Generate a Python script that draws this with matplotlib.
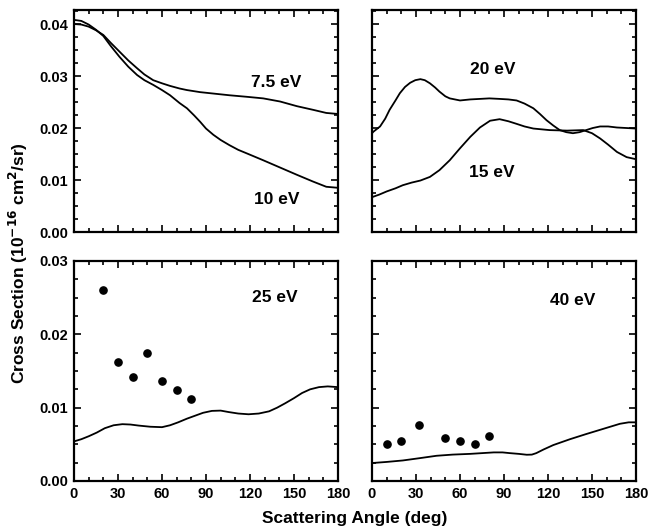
import matplotlib
matplotlib.use("Agg")
import matplotlib.pyplot as plt
from matplotlib.ticker import MultipleLocator, FormatStrFormatter

plt.rcParams['font.family'] = ['Liberation Sans', 'DejaVu Sans']
plt.rcParams['font.weight'] = 'bold'

# ---- data ----
ang_75 = [0, 5, 10, 15, 20, 25, 31, 37, 43, 48, 54, 60, 65.5, 72, 77, 86, 96, 106, 118,
          129, 140.5, 152, 163, 172, 180]
cs_75 = [0.0400, 0.0399, 0.0395, 0.0388, 0.0379, 0.0364, 0.0347, 0.0330, 0.0315, 0.0303,
         0.0292, 0.0286, 0.0281, 0.0276, 0.0273, 0.0269, 0.0266, 0.0263, 0.0260, 0.0257,
         0.0251, 0.0242, 0.0235, 0.0229, 0.0227]
ang_10 = [0, 5, 10, 15, 20, 25, 31, 37, 43, 48, 54, 60, 65.5, 72, 77, 82, 86, 90, 95, 100,
          106, 112, 118, 129, 140.5, 152, 163, 172, 180]
cs_10 = [0.0408, 0.0406, 0.0399, 0.0389, 0.0377, 0.0358, 0.0337, 0.0318, 0.0302, 0.0292,
         0.0283, 0.0273, 0.0263, 0.0248, 0.0238, 0.0224, 0.0212, 0.0199, 0.0187, 0.0177,
         0.0167, 0.0158, 0.0151, 0.0138, 0.0124, 0.0110, 0.0097, 0.0087, 0.0085]

ang_15 = [0, 5, 10, 16, 21, 27, 33, 39.5, 46, 53, 60, 67, 73.6, 80.5, 87, 93, 98.6, 104,
          110, 121, 133, 144, 150, 155.5, 161, 167, 173.6, 180]
cs_15 = [0.0067, 0.0072, 0.0078, 0.0084, 0.0090, 0.0095, 0.0099, 0.0106, 0.0119, 0.0138,
         0.0161, 0.0183, 0.0201, 0.0214, 0.0217, 0.0213, 0.0208, 0.0203, 0.0199, 0.0196,
         0.0195, 0.0196, 0.0190, 0.0180, 0.0168, 0.0154, 0.0144, 0.0140]
ang_20 = [0, 1, 5.5, 9, 12, 16, 19, 22.5, 26, 29.5, 33, 36, 39.5, 43, 46, 50, 53, 60, 67,
          73.6, 80, 87, 93, 98.6, 104, 110, 114.5, 119, 123.5, 128, 132.5, 137, 141.5, 146,
          150.5, 155.5, 161, 167, 180]
cs_20 = [0.0190, 0.0193, 0.0203, 0.0218, 0.0235, 0.0253, 0.0267, 0.0279, 0.0287, 0.0292,
         0.0294, 0.0292, 0.0286, 0.0278, 0.0270, 0.0261, 0.0257, 0.0253, 0.0255, 0.0256,
         0.0257, 0.0256, 0.0255, 0.0253, 0.0247, 0.0238, 0.0227, 0.0215, 0.0205, 0.0196,
         0.0192, 0.0190, 0.0192, 0.0196, 0.0200, 0.0203, 0.0203, 0.0201, 0.0199]

ang_25 = [0, 5, 10, 15.5, 21, 27, 33, 38.5, 44, 52, 60, 65.5, 71, 77, 82.5, 88, 94, 100,
          105.5, 112, 119, 126, 133, 138.5, 144, 150, 155.5, 161, 167, 173, 180]
cs_25 = [0.0054, 0.0057, 0.0061, 0.0066, 0.0072, 0.0076, 0.00775, 0.0077, 0.00756, 0.0074,
         0.00734, 0.0076, 0.0080, 0.0085, 0.0089, 0.0093, 0.00956, 0.0096, 0.0094, 0.0092,
         0.0091, 0.0092, 0.0095, 0.0100, 0.0106, 0.0113, 0.0120, 0.0125, 0.0128, 0.0129,
         0.0128]
exp_ang_25 = [20, 30, 40, 50, 60, 70, 80]
exp_cs_25 = [0.0261, 0.0162, 0.0142, 0.0174, 0.0136, 0.0124, 0.0112]

ang_40 = [0, 10, 21, 32, 44, 55, 67, 75, 83, 89, 94, 100, 105.5, 109, 112, 117, 123.6, 135,
          146, 157.5, 169, 175, 180]
cs_40 = [0.00245, 0.0026, 0.0028, 0.0031, 0.00344, 0.0036, 0.0037, 0.0038, 0.0039, 0.0039,
         0.0038, 0.0037, 0.00358, 0.0036, 0.0038, 0.0043, 0.0049, 0.0057, 0.0064, 0.0071,
         0.0078, 0.0080, 0.0080]
exp_ang_40 = [10, 20, 32, 50, 60, 70, 80]
exp_cs_40 = [0.0050, 0.0055, 0.0076, 0.0058, 0.0055, 0.0051, 0.0062]

xticks = [0, 30, 60, 90, 120, 150, 180]

fig = plt.figure(figsize=(6.52, 5.31), dpi=100)
W, H = 652, 531

def mk(l, r, t, b):
    return fig.add_axes([l / W, 1 - b / H, (r - l) / W, (b - t) / H])

ax1 = mk(74, 338, 10, 232)
ax2 = mk(372, 636, 10, 232)
ax3 = mk(74, 338, 261, 481)
ax4 = mk(372, 636, 261, 481)

lw = 1.3
ax1.plot(ang_75, cs_75, color='black', lw=lw)
ax1.plot(ang_10, cs_10, color='black', lw=lw)
ax2.plot(ang_15, cs_15, color='black', lw=lw)
ax2.plot(ang_20, cs_20, color='black', lw=lw)
ax3.plot(ang_25, cs_25, color='black', lw=lw)
ax3.plot(exp_ang_25, exp_cs_25, 'o', color='black', ms=5.2)
ax4.plot(ang_40, cs_40, color='black', lw=lw)
ax4.plot(exp_ang_40, exp_cs_40, 'o', color='black', ms=5.2)

fs_lab = 12.5
ax1.text(138, 0.0287, '7.5 eV', ha='center', va='center', fontsize=fs_lab, fontweight='bold')
ax1.text(138, 0.0062, '10 eV', ha='center', va='center', fontsize=fs_lab, fontweight='bold')
ax2.text(82.5, 0.0312, '20 eV', ha='center', va='center', fontsize=fs_lab, fontweight='bold')
ax2.text(82, 0.0115, '15 eV', ha='center', va='center', fontsize=fs_lab, fontweight='bold')
ax3.text(137, 0.0250, '25 eV', ha='center', va='center', fontsize=fs_lab, fontweight='bold')
ax4.text(137, 0.0246, '40 eV', ha='center', va='center', fontsize=fs_lab, fontweight='bold')

for ax in (ax1, ax2, ax3, ax4):
    ax.set_xlim(0, 180)
    ax.set_xticks(xticks)
    ax.xaxis.set_minor_locator(MultipleLocator(10))
    ax.yaxis.set_major_locator(MultipleLocator(0.01))
    ax.yaxis.set_minor_locator(MultipleLocator(0.0025))
    ax.yaxis.set_major_formatter(FormatStrFormatter('%.2f'))
    ax.tick_params(which='both', direction='in', top=True, right=True, width=1.2,
                   labelsize=10.5, pad=4)
    ax.tick_params(which='major', length=5)
    ax.tick_params(which='minor', length=3)
    for s in ax.spines.values():
        s.set_linewidth(1.6)
    for lab in ax.get_xticklabels() + ax.get_yticklabels():
        lab.set_fontweight('bold')

for ax in (ax1, ax2):
    ax.set_ylim(0, 0.0427)
    ax.tick_params(labelbottom=False)
for ax in (ax3, ax4):
    ax.set_ylim(0, 0.03)
ax2.tick_params(labelleft=False)
ax4.tick_params(labelleft=False)

fig.text(355 / W, 1 - 519 / H, 'Scattering Angle (deg)', ha='center', va='center',
         fontsize=12.5, fontweight='bold')
fig.text(18 / W, 1 - 263 / H, r'Cross Section (10$^{\mathbf{-16}}$ cm$^{\mathbf{2}}$/sr)',
         ha='center', va='center', rotation=90, fontsize=12.5, fontweight='bold')

fig.savefig('out.png', dpi=100)
